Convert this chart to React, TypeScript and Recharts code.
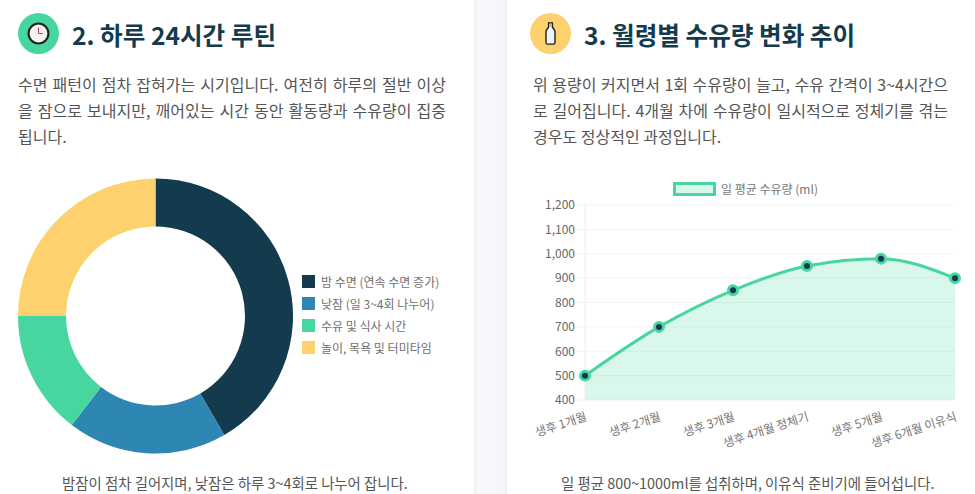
import React from 'react';
import {
    Area,
    AreaChart,
    CartesianGrid,
    Cell,
    Legend,
    Pie,
    PieChart,
    XAxis,
    YAxis
} from 'recharts';

const routineLabels = ['밤 수면 (연속 수면 증가)', '낮잠 (일 3~4회 나누어)', '수유 및 식사 시간', '놀이, 목욕 및 터미타임'];
const routineHours = [10, 4.5, 3.5, 6];
const routineColors = ['#143a4d', '#2e86b3', '#47d6a0', '#fdd26e'];

const months = ['생후 1개월', '생후 2개월', '생후 3개월', '생후 4개월 정체기', '생후 5개월', '생후 6개월 이유식'];
const milkVolumes = [500, 700, 850, 950, 980, 900];
const volumeTicks = [400, 500, 600, 700, 800, 900, 1000, 1100, 1200];

const routineData = routineLabels.map((name, i) => ({ name, hours: routineHours[i] }));
const milkData = months.map((month, i) => ({ month, volume: milkVolumes[i] }));

const FONT = '"Noto Sans CJK KR", "Noto Sans", sans-serif';
const NAVY = '#143a4d';
const GREEN = '#47d6a0';

const RoutineLegend = () => (
    <div style={{ fontFamily: FONT, fontSize: 12, color: '#707070' }}>
        {routineLabels.map((label, i) => (
            <div key={label} style={{ display: 'flex', alignItems: 'center', height: 22 }}>
                <span style={{ width: 13, height: 13, background: routineColors[i], marginRight: 6, flex: 'none' }} />
                <span style={{ whiteSpace: 'nowrap' }}>{label}</span>
            </div>
        ))}
    </div>
);

const VolumeLegend = () => (
    <div style={{ fontFamily: FONT, fontSize: 12, color: '#777', display: 'flex', alignItems: 'center' }}>
        <span style={{ width: 37, height: 8, border: `3px solid ${GREEN}`, background: 'rgba(71,214,160,0.2)', marginRight: 5 }} />
        <span style={{ whiteSpace: 'nowrap' }}>일 평균 수유량 (ml)</span>
    </div>
);

const ClockIcon = () => (
    <svg width="23" height="23" viewBox="0 0 22 22">
        <circle cx="11" cy="11" r="9.5" fill="#f4f4f4" stroke="#222" strokeWidth="2" />
        <path d="M11 5.5V11" stroke="#d33" strokeWidth="1" />
        <path d="M11 11H15" stroke="#d33" strokeWidth="1" />
    </svg>
);

const BottleIcon = () => (
    <svg width="11" height="23" viewBox="0 0 11 23">
        <path d="M3.6 1h3.8v4l1.7 2.5c.6.8.9 1.4.9 2.3V20.5a1.6 1.6 0 0 1-1.6 1.6H2.6a1.6 1.6 0 0 1-1.6-1.6V9.8c0-.9.3-1.5.9-2.3L3.6 5z" fill="#eef6fb" stroke="#1d1d1d" strokeWidth="1.4" />
        <path d="M4.2 1.5h2.6v3.5H4.2z" fill="#e9b44c" />
    </svg>
);

const Section = ({ left, width, pad, iconLeft, titleLeft, bodyWidth, bg, icon, title, body, caption, captionLeft }: any) => (
    <div style={{ position: 'absolute', left, top: 0, width, height: 494, background: '#fff' }}>
        <div style={{ position: 'absolute', left: iconLeft, top: 13, width: 41, height: 41, borderRadius: 21, background: bg, display: 'flex', alignItems: 'center', justifyContent: 'center' }}>
            {icon}
        </div>
        <div style={{ position: 'absolute', left: titleLeft, top: 16, fontSize: 24.6, lineHeight: '36px', fontWeight: 700, color: NAVY, whiteSpace: 'nowrap' }}>
            {title}
        </div>
        <div style={{ position: 'absolute', left: pad, top: 71, width: bodyWidth, fontSize: 16, lineHeight: '26px', color: '#555', textAlign: 'justify', wordBreak: 'break-all' }}>
            {body}
        </div>
        <div style={{ position: 'absolute', left: captionLeft, top: 472, fontSize: 14.4, lineHeight: '22px', color: '#555', whiteSpace: 'nowrap' }}>
            {caption}
        </div>
    </div>
);

const App: React.FC = () => (
    <div style={{ position: 'fixed', left: 0, top: 0, width: 975, height: 494, overflow: 'hidden', background: 'linear-gradient(90deg, #eef0f3 0, #f5f7fa 4px, #f5f7fa 29px, #eef0f3 33px)', backgroundSize: '33px 100%', backgroundPosition: '474px 0', backgroundRepeat: 'no-repeat', fontFamily: FONT }}>
        <Section
            left={0}
            width={474}
            pad={18}
            iconLeft={18}
            titleLeft={72}
            bodyWidth={428}
            bg={GREEN}
            icon={<ClockIcon />}
            title="2. 하루 24시간 루틴"
            body="수면 패턴이 점차 잡혀가는 시기입니다. 여전히 하루의 절반 이상을 잠으로 보내지만, 깨어있는 시간 동안 활동량과 수유량이 집중됩니다."
            caption="밤잠이 점차 길어지며, 낮잠은 하루 3~4회로 나누어 잡니다."
            captionLeft={62}
        />
        <Section
            left={507}
            width={468}
            pad={26}
            iconLeft={23}
            titleLeft={77}
            bodyWidth={415}
            bg="#fdd26e"
            icon={<BottleIcon />}
            title="3. 월령별 수유량 변화 추이"
            body="위 용량이 커지면서 1회 수유량이 늘고, 수유 간격이 3~4시간으로 길어집니다. 4개월 차에 수유량이 일시적으로 정체기를 겪는 경우도 정상적인 과정입니다."
            caption="일 평균 800~1000ml를 섭취하며, 이유식 준비기에 들어섭니다."
            captionLeft={54}
        />

        <div style={{ position: 'absolute', left: 0, top: 170 }}>
            <PieChart width={474} height={300} margin={{ top: 0, right: 0, bottom: 0, left: 0 }}>
                <Pie
                    data={routineData}
                    dataKey="hours"
                    nameKey="name"
                    cx={155.5}
                    cy={146}
                    outerRadius={137.5}
                    innerRadius={89.5}
                    startAngle={90}
                    endAngle={-270}
                    stroke="none"
                    isAnimationActive={false}
                >
                    {routineData.map((d, i) => (
                        <Cell key={d.name} fill={routineColors[i]} />
                    ))}
                </Pie>
                <Legend
                    content={<RoutineLegend />}
                    layout="vertical"
                    wrapperStyle={{ position: 'absolute', left: 302, top: 100, width: 170 }}
                />
            </PieChart>
        </div>

        <div style={{ position: 'absolute', left: 520, top: 170 }}>
            <AreaChart width={455} height={313} data={milkData} margin={{ top: 35, right: 20, bottom: 0, left: 0 }}>
                <Legend
                    content={<VolumeLegend />}
                    wrapperStyle={{ position: 'absolute', left: 153, top: 10, width: 180 }}
                />
                <CartesianGrid stroke="#f1f3f4" vertical={false} />
                <XAxis
                    dataKey="month"
                    interval={0}
                    height={66}
                    angle={-18}
                    textAnchor="end"
                    axisLine={false}
                    tickLine={false}
                    tickMargin={6}
                    tick={{ fill: '#777', fontSize: 12, fontFamily: FONT }}
                />
                <YAxis
                    domain={[400, 1200]}
                    ticks={volumeTicks}
                    interval={0}
                    width={65}
                    axisLine={{ stroke: '#eee' }}
                    tickLine={{ stroke: '#eee' }}
                    tickSize={8}
                    tickFormatter={(v: number) => v.toLocaleString('en-US')}
                    tick={{ fill: '#666', fontSize: 12, fontFamily: FONT }}
                />
                <Area
                    type="monotone"
                    dataKey="volume"
                    stroke={GREEN}
                    strokeWidth={3}
                    fill={GREEN}
                    fillOpacity={0.2}
                    dot={{ r: 4.5, fill: NAVY, stroke: GREEN, strokeWidth: 3, fillOpacity: 1 }}
                    isAnimationActive={false}
                />
            </AreaChart>
        </div>
    </div>
);

export default App;
